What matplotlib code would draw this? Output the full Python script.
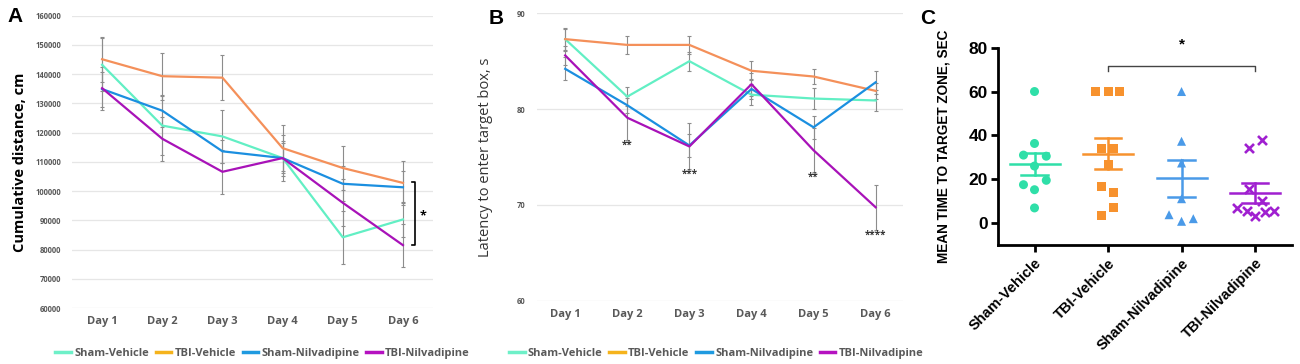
import numpy as np
import matplotlib
matplotlib.use("Agg")
import matplotlib.pyplot as plt
from matplotlib.lines import Line2D

# ---- data ----
days = ["Day 1", "Day 2", "Day 3", "Day 4", "Day 5", "Day 6"]
groups = ["Sham-Vehicle", "TBI-Vehicle", "Sham-Nilvadipine", "TBI-Nilvadipine"]

# panel A: cumulative distance (cm)
dist_sham_veh = [143200, 122400, 118700, 111300, 84200, 90300]
dist_tbi_veh = [145100, 139300, 138800, 114700, 107900, 102800]
dist_sham_nil = [134900, 127500, 113600, 111300, 102500, 101300]
dist_tbi_nil = [135200, 117900, 106600, 111300, 96000, 81500]
dist_err_sham_veh = [9000, 10000, 9000, 8000, 9000, 6000]
dist_err_tbi_veh = [7700, 8000, 7800, 7800, 7400, 7400]
dist_err_sham_nil = [6000, 5500, 4000, 5000, 6000, 5500]
dist_err_tbi_nil = [7400, 7500, 7500, 6000, 8000, 7400]

# panel B: latency to enter target box (s)
lat_sham_veh = [87.3, 81.3, 85.0, 81.5, 81.1, 80.9]
lat_tbi_veh = [87.3, 86.7, 86.7, 84.0, 83.4, 81.9]
lat_sham_nil = [84.2, 80.4, 76.2, 82.1, 78.1, 82.8]
lat_tbi_nil = [85.6, 79.1, 76.1, 82.6, 75.7, 69.75]
lat_err_sham_veh = [1.2, 1.0, 1.0, 1.1, 1.1, 1.1]
lat_err_tbi_veh = [1.1, 0.9, 0.9, 1.0, 0.8, 0.8]
lat_err_sham_nil = [1.2, 0.8, 1.2, 1.0, 1.2, 1.2]
lat_err_tbi_nil = [1.0, 2.3, 2.4, 1.2, 2.3, 2.35]
lat_stars_day = [1, 2, 4, 5]
lat_stars_txt = ["**", "***", "**", "****"]

# panel C: mean time to target zone (s), individual animals
c_sham_veh = [60, 36.3, 31, 30.5, 26, 19.5, 17.5, 15.2, 6.9]
c_tbi_veh = [60, 60, 60, 34, 34, 26.8, 16.9, 13.9, 7.0, 3.5]
c_sham_nil = [60, 37.3, 27.4, 11.1, 3.8, 0.8, 2.0]
c_tbi_nil = [38.1, 34.3, 15.4, 9.9, 7.0, 5.5, 3.0, 5.0, 5.5]
# horizontal scatter of the dots (category units)
c_off_sham_veh = [0, 0, -0.15, 0.16, 0, 0.16, -0.15, 0, 0]
c_off_tbi_veh = [-0.17, 0, 0.16, -0.085, 0.08, 0, -0.085, 0.08, 0.08, -0.085]
c_off_sham_nil = [0, 0, 0, 0, -0.17, 0, 0.16]
c_off_tbi_nil = [0.09, -0.08, -0.08, 0.09, -0.25, -0.11, 0, 0.135, 0.26]

line_cols = ["#62efc4", "#f4905a", "#1b8fe0", "#a812b8"]
legend_cols = ["#6ef0c8", "#f5b31c", "#1f9ae0", "#b512c0"]
c_cols = ["#2fdfa8", "#f7922e", "#4a9ae8", "#a020d0"]

plt.rcParams["font.family"] = ["Open Sans", "DejaVu Sans"]
arial = ["Liberation Sans", "DejaVu Sans"]
fig = plt.figure(figsize=(13, 3.64), dpi=100)


def line_panel(ax, series, errs, ylim, yticks, ylab, lab_bold):
    x = np.arange(len(days))
    for vals, err, col in zip(series, errs, line_cols):
        ax.errorbar(x, vals, yerr=err, fmt="none", ecolor="#8c8c8c",
                    elinewidth=0.8, capsize=1.5, capthick=0.8, zorder=2)
        ax.plot(x, vals, color=col, lw=1.6, zorder=3)
    ax.set_xlim(-0.5, 5.5)
    ax.set_ylim(*ylim)
    ax.set_yticks(yticks)
    ax.set_xticks(x)
    ax.set_xticklabels(days, fontsize=8, fontweight="bold", color="#595959")
    ax.tick_params(axis="y", labelsize=5.5, colors="#595959", length=0, pad=8)
    ax.tick_params(axis="x", length=0, pad=6)
    for lab in ax.get_yticklabels():
        lab.set_fontweight("bold")
    ax.grid(axis="y", color="#e6e6e6", lw=0.9)
    ax.set_axisbelow(True)
    for s in ax.spines.values():
        s.set_visible(False)
    ax.set_ylabel(ylab, fontsize=10.5, fontweight="bold" if lab_bold else "normal",
                  color="black" if lab_bold else "#333333")


# ---- panel A ----
axA = fig.add_axes([0.0554, 0.1538, 0.2777, 0.8031])
line_panel(axA, [dist_sham_veh, dist_tbi_veh, dist_sham_nil, dist_tbi_nil],
           [dist_err_sham_veh, dist_err_tbi_veh, dist_err_sham_nil, dist_err_tbi_nil],
           (60000, 160000), np.arange(60000, 160001, 10000),
           "Cumulative distance, cm", True)
axA.yaxis.set_label_coords(-0.125, 0.5)
axA.plot([5.15, 5.2, 5.2, 5.15], [103000, 103000, 81700, 81700],
         color="black", lw=1.2, clip_on=False)
axA.text(5.33, 91500, "*", fontsize=9, fontweight="bold", ha="center", va="center")

# ---- panel B ----
axB = fig.add_axes([0.4128, 0.1739, 0.2818, 0.7896])
line_panel(axB, [lat_sham_veh, lat_tbi_veh, lat_sham_nil, lat_tbi_nil],
           [lat_err_sham_veh, lat_err_tbi_veh, lat_err_sham_nil, lat_err_tbi_nil],
           (60, 90), [60, 70, 80, 90],
           "Latency to enter target box, s", False)
axB.set_xlim(-0.46, 5.44)
axB.yaxis.set_label_coords(-0.12, 0.5)
for d, t in zip(lat_stars_day, lat_stars_txt):
    low = lat_tbi_nil[d] - lat_err_tbi_nil[d]
    axB.text(d, low - 0.55, t, fontsize=7, fontweight="bold", color="#333333",
             ha="center", va="center")

handles = [Line2D([0], [0], color=c, lw=2.5) for c in legend_cols]
for ax, cx in [(axA, 0.202), (axB, 0.551)]:
    ax.legend(handles, groups, loc="center", bbox_to_anchor=(cx, 0.03),
              bbox_transform=fig.transFigure, ncol=4, frameon=False,
              handlelength=1.4, handletextpad=0.3, columnspacing=0.6,
              prop={"size": 8, "weight": "bold"}, labelcolor="#595959")

# ---- panel C ----
axC = fig.add_axes([0.7675, 0.327, 0.2262, 0.542])
c_vals = [c_sham_veh, c_tbi_veh, c_sham_nil, c_tbi_nil]
c_offs = [c_off_sham_veh, c_off_tbi_veh, c_off_sham_nil, c_off_tbi_nil]
markers = ["o", "s", "^", "x"]
for i, (vals, offs, col, m) in enumerate(zip(c_vals, c_offs, c_cols, markers)):
    v = np.array(vals)
    xs = i + np.array(offs)
    if m == "x":
        axC.scatter(xs, v, marker="x", s=42, color=col, linewidths=1.9, zorder=3)
    else:
        axC.scatter(xs, v, marker=m, s=42, color=col, edgecolors="none", zorder=3)
    mean = v.mean()
    sem = v.std(ddof=1) / np.sqrt(len(v))
    axC.plot([i - 0.34, i + 0.34], [mean, mean], color=col, lw=1.8, zorder=4)
    axC.plot([i - 0.18, i + 0.18], [mean + sem, mean + sem], color=col, lw=1.8, zorder=4)
    axC.plot([i - 0.18, i + 0.18], [mean - sem, mean - sem], color=col, lw=1.8, zorder=4)
    axC.plot([i, i], [mean - sem, mean + sem], color=col, lw=1.8, zorder=4)

axC.set_xlim(-0.5, 3.5)
axC.set_ylim(-10, 80)
axC.set_yticks([0, 20, 40, 60, 80])
axC.set_xticks(range(4))
axC.set_xticklabels(groups, rotation=45, ha="right", rotation_mode="anchor",
                    fontsize=10.5, fontweight="bold", family=arial)
for lab in axC.get_yticklabels():
    lab.set_fontweight("bold")
    lab.set_family(arial)
axC.tick_params(axis="y", labelsize=12.5, width=2, length=5, pad=2)
axC.tick_params(axis="x", width=2, length=5, pad=3)
for s in ["top", "right"]:
    axC.spines[s].set_visible(False)
for s in ["left", "bottom"]:
    axC.spines[s].set_linewidth(2)
axC.set_ylabel("MEAN TIME TO TARGET ZONE, SEC", fontsize=9.8, fontweight="bold",
               family=arial)
axC.yaxis.set_label_coords(-0.16, 0.5)
axC.plot([1, 1, 3, 3], [69.3, 71.8, 71.8, 69.3], color="#444444", lw=1.0,
         clip_on=False)
axC.text(2, 81.5, "*", fontsize=11, fontweight="bold", ha="center", va="center",
         family=arial)

# panel letters
for x, y, t in [(0.006, 0.955, "A"), (0.376, 0.95, "B"), (0.708, 0.95, "C")]:
    fig.text(x, y, t, fontsize=15, fontweight="bold", family=arial, va="center")

fig.savefig("out.png", dpi=100)
